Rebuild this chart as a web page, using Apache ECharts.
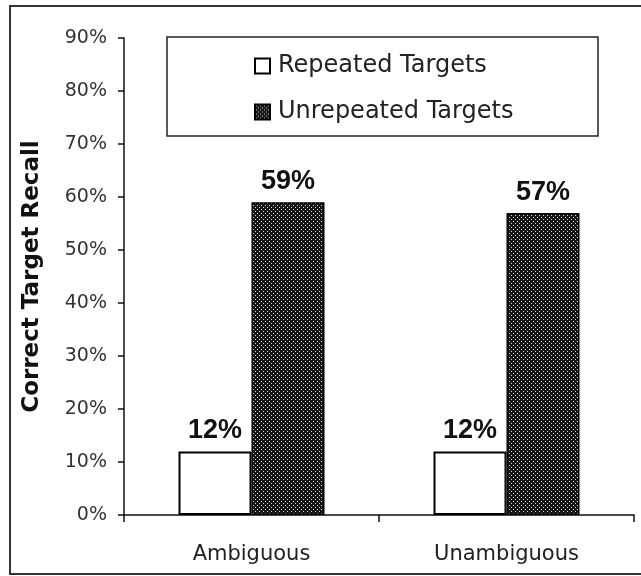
<!DOCTYPE html>
<html>
<head>
<meta charset="utf-8">
<script src="https://cdn.jsdelivr.net/npm/echarts@6/dist/echarts.min.js"></script>
<style>
  html, body { margin: 0; padding: 0; background: #fff; }
  #chart { width: 641px; height: 576px; }
</style>
</head>
<body>
<div id="chart"></div>
<script>
// Recall rates (percent) per condition
const categories = ['Ambiguous', 'Unambiguous'];
const repeatedTargets = [12, 12];
const unrepeatedTargets = [59, 57];
const seriesNames = ['Repeated Targets', 'Unrepeated Targets'];
const yTicks = { min: 0, max: 90, step: 10 };

// Dense dotted fill for the dark bars
function dotPattern() {
  const c = document.createElement('canvas');
  c.width = 4; c.height = 4;
  const g = c.getContext('2d');
  g.fillStyle = '#151515';
  g.fillRect(0, 0, 4, 4);
  g.fillStyle = '#dcdcdc';
  g.fillRect(1, 1, 1, 1);
  g.fillRect(3, 3, 1, 1);
  return c;
}

const chart = echarts.init(document.getElementById('chart'), null, { renderer: 'canvas' });

const labelStyle = {
  show: true,
  position: 'top',
  distance: 7,
  formatter: '{c}%',
  fontFamily: 'Liberation Sans, Arial, sans-serif',
  fontWeight: 'bold',
  fontSize: 27,
  color: '#111'
};

chart.setOption({
  animation: false,
  backgroundColor: '#fff',
  grid: { left: 124, top: 38, right: 7, bottom: 61, containLabel: false, outerBoundsMode: 'none' },
  graphic: [
    {
      type: 'rect',
      shape: { x: 10, y: 6, width: 640, height: 568 },
      style: { fill: 'none', stroke: '#333', lineWidth: 2 },
      z: -1
    },
    {
      type: 'rect',
      shape: { x: 167, y: 37, width: 431, height: 99 },
      style: { fill: '#fff', stroke: '#222', lineWidth: 1.5 },
      z: 50
    }
  ],
  legend: {
    orient: 'vertical',
    left: 249,
    top: 49,
    icon: 'rect',
    itemWidth: 15,
    itemHeight: 15,
    itemGap: 22,
    z: 60,
    data: seriesNames,
    textStyle: {
      fontFamily: 'DejaVu Sans, sans-serif',
      fontSize: 24,
      color: '#222',
      padding: [0, 0, 0, 3]
    },
    itemStyle: { borderColor: '#000', borderWidth: 2 }
  },
  xAxis: {
    type: 'category',
    data: categories,
    axisLine: { lineStyle: { color: '#111', width: 1.5 } },
    axisTick: { show: true, length: 7, lineStyle: { color: '#111', width: 1.5 } },
    axisLabel: {
      margin: 29,
      fontFamily: 'DejaVu Sans, sans-serif',
      fontSize: 21,
      color: '#222'
    },
    splitLine: { show: false }
  },
  yAxis: {
    type: 'value',
    min: yTicks.min,
    max: yTicks.max,
    interval: yTicks.step,
    name: 'Correct Target Recall',
    nameLocation: 'middle',
    nameGap: 80,
    nameTextStyle: {
      fontFamily: 'DejaVu Sans, sans-serif',
      fontWeight: 'bold',
      fontSize: 23,
      color: '#111'
    },
    axisLine: { show: true, lineStyle: { color: '#111', width: 1.5 } },
    axisTick: { show: true, length: 6, lineStyle: { color: '#111', width: 1.5 } },
    axisLabel: {
      margin: 17,
      formatter: '{value}%',
      fontFamily: 'DejaVu Sans, sans-serif',
      fontSize: 19,
      color: '#333'
    },
    splitLine: { show: false }
  },
  series: [
    {
      name: seriesNames[0],
      type: 'bar',
      data: repeatedTargets,
      barWidth: 73,
      barGap: '0%',
      itemStyle: { color: '#fff', borderColor: '#000', borderWidth: 2 },
      label: labelStyle
    },
    {
      name: seriesNames[1],
      type: 'bar',
      data: unrepeatedTargets,
      barWidth: 73,
      barGap: '0%',
      itemStyle: {
        color: { image: dotPattern(), repeat: 'repeat' },
        borderColor: '#000',
        borderWidth: 1.5
      },
      label: labelStyle
    }
  ]
});
</script>
</body>
</html>
